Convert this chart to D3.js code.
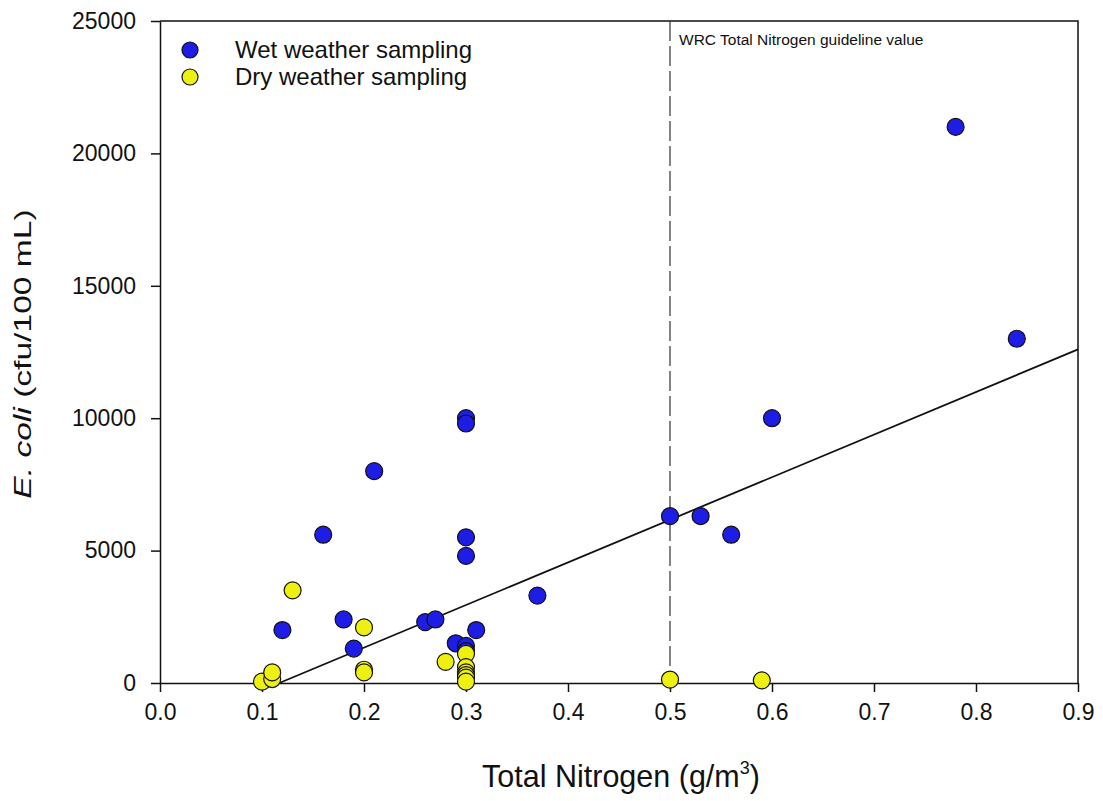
<!DOCTYPE html>
<html>
<head>
<meta charset="utf-8">
<script src="https://cdn.jsdelivr.net/npm/d3@7"></script>
<style>
  body { margin: 0; background: #fff; }
  text { font-family: Arial, "Liberation Sans", sans-serif; fill: #111; }
</style>
</head>
<body>
<div id="chart"></div>
<script>
// wet weather samples
const wetN = [0.12, 0.16, 0.18, 0.19, 0.21, 0.26, 0.27, 0.29, 0.30, 0.30, 0.30, 0.30, 0.30, 0.30, 0.31, 0.37, 0.50, 0.53, 0.56, 0.60, 0.78, 0.84]
const wetEcoli = [2000, 5600, 2400, 1300, 8000, 2300, 2400, 1500, 10000, 9800, 5500, 4800, 1400, 1200, 2000, 3300, 6300, 6300, 5600, 10000, 21000, 13000]

// dry weather samples
const dryN = [0.10, 0.11, 0.11, 0.13, 0.20, 0.20, 0.20, 0.28, 0.30, 0.30, 0.30, 0.30, 0.30, 0.30, 0.50, 0.59]
const dryEcoli = [50, 150, 400, 3500, 2100, 500, 400, 800, 1100, 600, 400, 300, 200, 50, 130, 100]

// fitted line end points and guideline
const fitLine = [[0.117, 0], [0.9, 12600]]
const guideline = 0.5

const xTicks = [0, 0.1, 0.2, 0.3, 0.4, 0.5, 0.6, 0.7, 0.8, 0.9]
const yTicks = [0, 5000, 10000, 15000, 20000, 25000]

const width = 1103, height = 801
const margin = { top: 21, right: 25, bottom: 118, left: 160 }
const w = width - margin.left - margin.right
const h = height - margin.top - margin.bottom

const svg = d3.select('#chart').append('svg')
    .attr('width', width)
    .attr('height', height)

const g = svg.append('g')
    .attr('transform', `translate(${margin.left},${margin.top})`)

let x = d3.scaleLinear().domain([0, 0.9]).range([0, w])
let y = d3.scaleLinear().domain([0, 25000]).range([h, 0])

// frame top/right
g.append('path')
    .attr('d', `M0,0H${w}V${h}`)
    .attr('fill', 'none')
    .attr('stroke', '#111')
    .attr('stroke-width', 1.5)

let xAxis = g.append('g')
    .attr('transform', `translate(0,${h})`)
    .call(d3.axisBottom(x).tickValues(xTicks).tickFormat(d3.format('.1f')).tickSize(9).tickPadding(12).tickSizeOuter(0))
let yAxis = g.append('g')
    .call(d3.axisLeft(y).tickValues(yTicks).tickFormat(d => d).tickSize(9).tickPadding(15).tickSizeOuter(0))

for (let ax of [xAxis, yAxis]) {
    ax.selectAll('path, line').attr('stroke', '#111').attr('stroke-width', 1.5)
    ax.selectAll('text').attr('font-size', 23).attr('font-family', 'Arial, "Liberation Sans", sans-serif').attr('fill', '#222')
}

// guideline
g.append('line')
    .attr('x1', x(guideline)).attr('x2', x(guideline))
    .attr('y1', 0).attr('y2', h)
    .attr('stroke', '#333')
    .attr('stroke-width', 1.2)
    .attr('stroke-dasharray', '20,5')

g.append('text')
    .attr('x', x(guideline) + 9)
    .attr('y', 24)
    .attr('font-size', 15.5)
    .text('WRC Total Nitrogen guideline value')

// fitted line
g.append('line')
    .attr('x1', x(fitLine[0][0])).attr('y1', y(fitLine[0][1]))
    .attr('x2', x(fitLine[1][0])).attr('y2', y(fitLine[1][1]))
    .attr('stroke', '#111')
    .attr('stroke-width', 1.8)

const blue = '#1d1de6', yellow = '#eef012'

g.selectAll('.wet')
    .data(wetN.map((n, i) => [n, wetEcoli[i]]))
    .enter().append('circle')
    .attr('class', 'wet')
    .attr('cx', d => x(d[0]))
    .attr('cy', d => y(d[1]))
    .attr('r', 8.5)
    .attr('fill', blue)
    .attr('stroke', '#111')
    .attr('stroke-width', 1.2)

g.selectAll('.dry')
    .data(dryN.map((n, i) => [n, dryEcoli[i]]))
    .enter().append('circle')
    .attr('class', 'dry')
    .attr('cx', d => x(d[0]))
    .attr('cy', d => y(d[1]))
    .attr('r', 8.5)
    .attr('fill', yellow)
    .attr('stroke', '#111')
    .attr('stroke-width', 1.2)

// legend
const legend = [['Wet weather sampling', blue], ['Dry weather sampling', yellow]]
legend.forEach((l, i) => {
    let ly = 29 + i * 27
    g.append('circle')
        .attr('cx', 30).attr('cy', ly)
        .attr('r', 8)
        .attr('fill', l[1])
        .attr('stroke', '#111')
        .attr('stroke-width', 1.2)
    g.append('text')
        .attr('x', 75).attr('y', ly + 8)
        .attr('font-size', 24)
        .text(l[0])
})

// axis titles (the y title is drawn stretched along its length, as in the source)
const yt = svg.append('text')
    .attr('transform', `translate(31,354) rotate(-90) scale(1.4,1)`)
    .attr('text-anchor', 'middle')
    .attr('font-size', 24)
yt.append('tspan').attr('font-style', 'italic').text('E. coli')
yt.append('tspan').text(' (cfu/100 mL)')

const xt = svg.append('text')
    .attr('x', 621)
    .attr('y', 787)
    .attr('text-anchor', 'middle')
    .attr('font-size', 30.5)
xt.append('tspan').text('Total Nitrogen (g/m')
xt.append('tspan').attr('font-size', 18).attr('dy', -13).text('3')
xt.append('tspan').attr('dy', 13).text(')')
</script>
</body>
</html>
